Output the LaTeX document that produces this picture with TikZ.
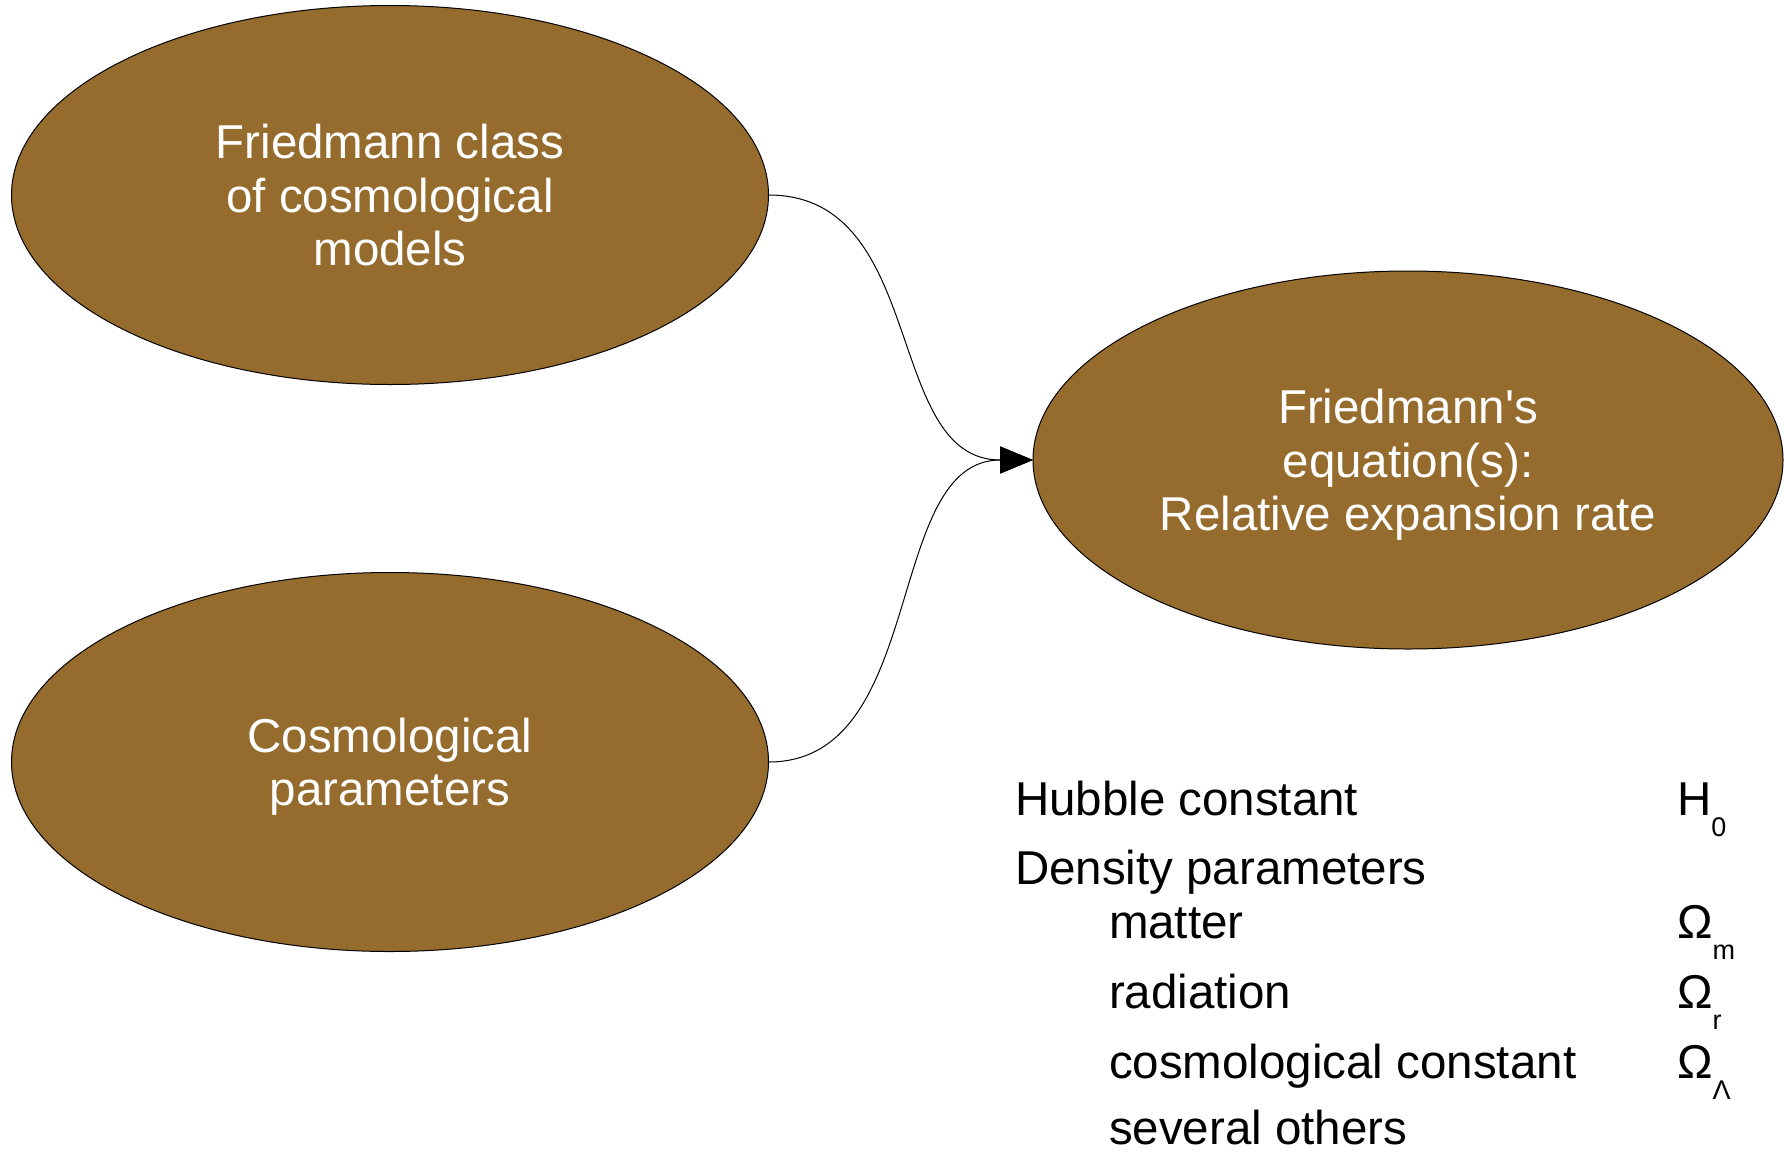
\documentclass[tikz,border=0pt]{standalone}
\usepackage{fontspec}
\setmainfont{Liberation Sans}
\usetikzlibrary{shapes.geometric,arrows.meta}
\definecolor{brownfill}{RGB}{149,108,45}
\tikzset{
  bubble/.style={ellipse, draw=black, line width=1pt, fill=brownfill, text=white,
    inner sep=0pt, outer sep=0pt, align=center, text depth=0pt,
    font=\fontsize{47.5}{53.5}\selectfont},
  link/.style={draw=black, line width=1pt, -{Triangle[length=33pt,width=27pt]}},
  listtext/.style={anchor=base west, inner sep=0pt, outer sep=0pt,
    font=\fontsize{47.5}{53.5}\selectfont},
}
\newcommand{\subtxt}[1]{\raisebox{-21pt}{\fontsize{27}{27}\selectfont #1}}
\begin{document}
\begin{tikzpicture}[x=1pt,y=-1pt]
\useasboundingbox (0,0) rectangle (1784,1151);
\node[bubble, minimum width=757pt, minimum height=379pt] (e1) at (390,195)
  {Friedmann class\\of cosmological\\models};
\node[bubble, minimum width=757pt, minimum height=379pt] (e2) at (390,762)
  {Cosmological\\parameters};
\node[bubble, minimum width=750pt, minimum height=378pt] (e3) at (1408,460)
  {Friedmann\textquotesingle s\\equation(s):\\Relative expansion rate};
\draw[link] (e1.east) .. controls +(160,0) and +(-150,0) .. (e3.west);
\draw[link] (e2.east) .. controls +(160,0) and +(-150,0) .. (e3.west);
\node[listtext] (l1) at (1015,815) {Hubble constant};
\node[listtext] (l2) at (1015,884) {Density parameters};
\node[listtext] (l3) at (1109,938) {matter};
\node[listtext] (l4) at (1109,1008) {radiation};
\node[listtext] (l5) at (1109,1078) {cosmological constant};
\node[listtext] (l6) at (1109,1144) {several others};
\node[listtext] (s1) at (1677,815) {H\subtxt{0}};
\node[listtext] (s3) at (1677,938) {Ω\subtxt{m}};
\node[listtext] (s4) at (1677,1008) {Ω\subtxt{r}};
\node[listtext] (s5) at (1677,1078) {Ω\subtxt{Λ}};
\end{tikzpicture}
\end{document}
